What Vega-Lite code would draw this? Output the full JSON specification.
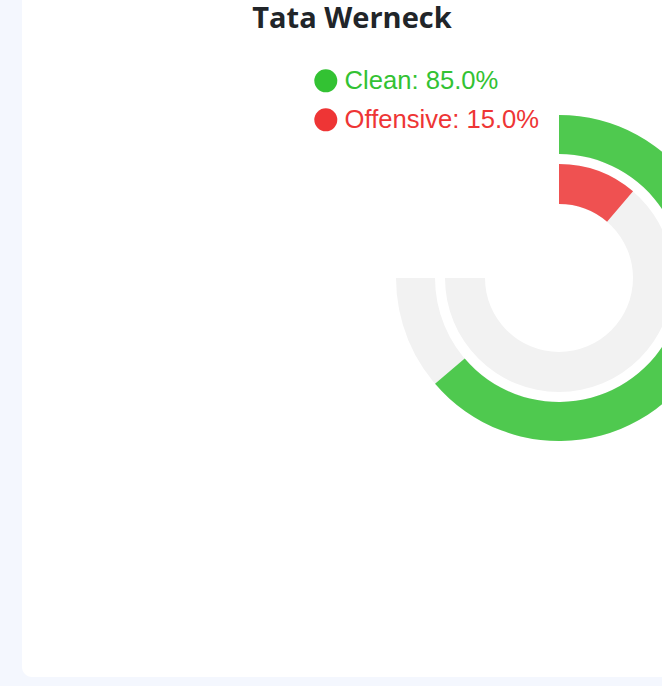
{
  "$schema": "https://vega.github.io/schema/vega-lite/v6.json",
  "width": 1074,
  "height": 798,
  "autosize": {"type": "none"},
  "padding": {"left": 22, "top": -121, "right": -434, "bottom": 9},
  "background": "#f4f7fe",
  "config": {"view": {"stroke": null}},
  "title": {
    "text": "Tata Werneck",
    "anchor": "middle",
    "frame": "group",
    "orient": "top",
    "offset": 0,
    "dx": -207,
    "dy": 155,
    "font": "Open Sans",
    "fontSize": 29,
    "fontWeight": "bold",
    "color": "#212529"
  },
  "data": {
    "values": [
      {"category": "Clean", "label": "Clean: 85.0%", "value": 85, "total": 100},
      {"category": "Offensive", "label": "Offensive: 15.0%", "value": 15, "total": 100}
    ]
  },
  "layer": [
    {
      "transform": [{"filter": "datum.category === 'Clean'"}],
      "mark": {"type": "rect", "color": "#ffffff", "cornerRadius": 10},
      "encoding": {}
    },
    {
      "transform": [{"filter": "datum.category === 'Clean'"}],
      "mark": {"type": "arc", "radius": 163, "radius2": 124, "color": "#f2f2f2"},
      "encoding": {
        "theta": {"field": "total", "type": "quantitative", "scale": {"domain": [0, 100], "range": [0, 4.71238898]}}
      }
    },
    {
      "transform": [{"filter": "datum.category === 'Offensive'"}],
      "mark": {"type": "arc", "radius": 114, "radius2": 74, "color": "#f2f2f2"},
      "encoding": {
        "theta": {"field": "total", "type": "quantitative", "scale": {"domain": [0, 100], "range": [0, 4.71238898]}}
      }
    },
    {
      "transform": [{"filter": "datum.category === 'Clean'"}],
      "mark": {"type": "arc", "radius": 163, "radius2": 124, "opacity": 0.85},
      "encoding": {
        "theta": {"field": "value", "type": "quantitative", "scale": {"domain": [0, 100], "range": [0, 4.71238898]}},
        "color": {
          "field": "label",
          "type": "nominal",
          "scale": {"domain": ["Clean: 85.0%", "Offensive: 15.0%"], "range": ["#33c233", "#ee3535"]},
          "legend": {
            "title": null,
            "orient": "none",
            "legendX": 291,
            "legendY": 189,
            "padding": 0,
            "symbolType": "circle",
            "symbolSize": 529,
            "symbolOpacity": 1,
            "symbolStrokeWidth": 0,
            "labelFont": "Liberation Sans",
            "labelFontSize": 25.6,
            "labelOffset": 6,
            "labelLimit": 400,
            "rowPadding": 12,
            "encoding": {"labels": {"fill": {"condition": {"test": "datum.value === 'Clean: 85.0%'", "value": "#33c233"}, "value": "#ee3535"}}}
          }
        }
      }
    },
    {
      "transform": [{"filter": "datum.category === 'Offensive'"}],
      "mark": {"type": "arc", "radius": 114, "radius2": 74, "opacity": 0.85},
      "encoding": {
        "theta": {"field": "value", "type": "quantitative", "scale": {"domain": [0, 100], "range": [0, 4.71238898]}},
        "color": {"field": "label", "type": "nominal"}
      }
    }
  ]
}
